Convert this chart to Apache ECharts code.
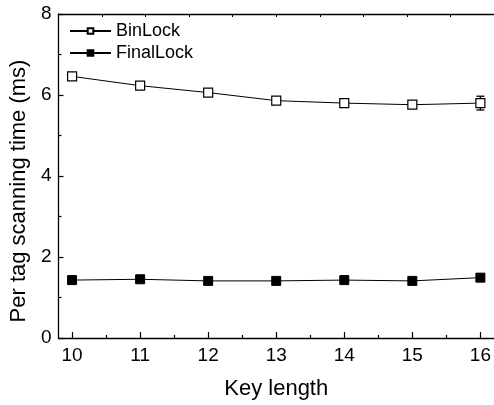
<!DOCTYPE html>
<html>
<head>
<meta charset="utf-8">
<script src="https://cdn.jsdelivr.net/npm/echarts@6/dist/echarts.min.js"></script>
<style>html,body{margin:0;padding:0;background:#fff;}#c{width:494px;height:405px;}</style>
</head>
<body>
<div id="c"></div>
<script>
const keyLengths = [10, 11, 12, 13, 14, 15, 16];
const binLock = [6.46, 6.23, 6.06, 5.86, 5.80, 5.76, 5.80];
const binLockErr = [0, 0, 0, 0, 0, 0, 0.17];
const finalLock = [1.43, 1.45, 1.41, 1.41, 1.43, 1.41, 1.49];
const xMajorTicks = [10, 11, 12, 13, 14, 15, 16];
const xMinorTicks = [10.5, 11.5, 12.5, 13.5, 14.5, 15.5];

const FONT = 'Liberation Sans, Arial, sans-serif';
const chart = echarts.init(document.getElementById('c'), null, {renderer: 'canvas'});

const errData = keyLengths.map((k, i) => [k, binLock[i], binLockErr[i]]);

chart.setOption({
  animation: false,
  backgroundColor: '#fff',
  grid: {left: 57, top: 14, right: -1, bottom: 67, containLabel: false},
  legend: {
    left: 64, top: 17, orient: 'vertical',
    itemWidth: 41, itemHeight: 7, itemGap: 4,
    textStyle: {fontFamily: FONT, fontSize: 18, color: '#000'},
    data: ['BinLock', 'FinalLock']
  },
  xAxis: [
    {
      type: 'value', min: 9.8, max: 16.2, position: 'bottom',
      axisLine: {lineStyle: {color: '#000', width: 1.3}},
      axisTick: {inside: true, length: 6, customValues: xMajorTicks, lineStyle: {color: '#000', width: 1.2}},
      axisLabel: {customValues: xMajorTicks, fontFamily: FONT, fontSize: 19, color: '#000', margin: 8},
      splitLine: {show: false},
      name: 'Key length', nameLocation: 'middle', nameGap: 40,
      nameTextStyle: {fontFamily: FONT, fontSize: 22, color: '#000'}
    },
    {
      type: 'value', min: 9.8, max: 16.2, position: 'bottom',
      axisLine: {show: false},
      axisTick: {inside: true, length: 3, customValues: xMinorTicks, lineStyle: {color: '#000', width: 1.2}},
      axisLabel: {show: false},
      splitLine: {show: false}
    },
    {
      type: 'value', min: 0, max: 10, interval: 1, position: 'top',
      axisLine: {lineStyle: {color: '#000', width: 1.3}},
      axisTick: {inside: true, length: 3, lineStyle: {color: '#000', width: 1}},
      axisLabel: {show: false},
      splitLine: {show: false}
    }
  ],
  yAxis: [
    {
      type: 'value', min: 0, max: 8, interval: 2,
      axisLine: {show: true, lineStyle: {color: '#000', width: 1.3}},
      axisTick: {show: true, inside: true, length: 5, lineStyle: {color: '#000', width: 1.2}},
      minorTick: {show: true, splitNumber: 2, length: 3, lineStyle: {color: '#000', width: 1.2}},
      axisLabel: {fontFamily: FONT, fontSize: 19, color: '#000', margin: 7},
      splitLine: {show: false},
      name: 'Per tag scanning time (ms)', nameLocation: 'middle', nameGap: 27,
      nameTextStyle: {fontFamily: FONT, fontSize: 22, color: '#000', padding: [0, 30, 0, 0]}
    }
  ],
  series: [
    {
      type: 'custom', name: 'BinLockErr', xAxisIndex: 0, yAxisIndex: 0, z: 1,
      data: errData,
      renderItem: function (params, api) {
        const x = api.value(0), y = api.value(1), e = api.value(2);
        if (!e) return null;
        const top = api.coord([x, y + e]);
        const bot = api.coord([x, y - e]);
        const w = 4;
        const st = {stroke: '#000', lineWidth: 1.3};
        return {type: 'group', children: [
          {type: 'line', shape: {x1: top[0], y1: top[1], x2: bot[0], y2: bot[1]}, style: st},
          {type: 'line', shape: {x1: top[0] - w, y1: top[1], x2: top[0] + w, y2: top[1]}, style: st},
          {type: 'line', shape: {x1: bot[0] - w, y1: bot[1], x2: bot[0] + w, y2: bot[1]}, style: st}
        ]};
      }
    },
    {
      type: 'line', name: 'BinLock', xAxisIndex: 0, z: 3,
      data: keyLengths.map((k, i) => [k, binLock[i]]),
      symbol: 'rect', symbolSize: 9,
      lineStyle: {color: '#000', width: 1},
      itemStyle: {color: '#fff', borderColor: '#000', borderWidth: 1.2}
    },
    {
      type: 'line', name: 'FinalLock', xAxisIndex: 0, z: 3,
      data: keyLengths.map((k, i) => [k, finalLock[i]]),
      symbol: 'rect', symbolSize: 9,
      lineStyle: {color: '#000', width: 1},
      itemStyle: {color: '#000', borderColor: '#000', borderWidth: 1}
    }
  ]
});
</script>
</body>
</html>
